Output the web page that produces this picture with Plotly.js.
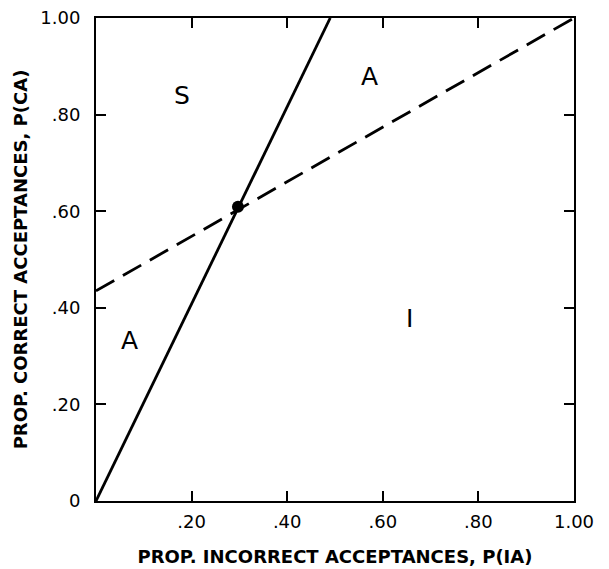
<!DOCTYPE html>
<html>
<head>
<meta charset="utf-8">
<script src="https://cdn.plot.ly/plotly-3.0.1.min.js"></script>
<style>html,body{margin:0;padding:0;background:#fff;}#chart{width:609px;height:569px;}</style>
</head>
<body>
<div id="chart"></div>
<script>
// Data
const solidX = [0, 0.49];
const solidY = [0, 1.0];
const dashedX = [0, 1.0];
const dashedY = [0.435, 1.0];
const pointX = [0.297];
const pointY = [0.609];
const regionLabels = ["S", "A", "A", "I"];
const regionX = [0.18, 0.573, 0.071, 0.655];
const regionY = [0.84, 0.878, 0.333, 0.377];
const xTickVals = [0, 0.2, 0.4, 0.6, 0.8, 1.0];
const xTickText = ["", ".20", ".40", ".60", ".80", "1.00"];
const yTickVals = [0, 0.2, 0.4, 0.6, 0.8, 1.0];
const yTickText = ["0", ".20", ".40", ".60", ".80", "1.00"];

const FONT = "DejaVu Sans, sans-serif";

const traces = [
  {x: solidX, y: solidY, mode: "lines", type: "scatter",
   line: {color: "#000", width: 2.8}, hoverinfo: "skip"},
  {x: dashedX, y: dashedY, mode: "lines", type: "scatter",
   line: {color: "#000", width: 2.8, dash: "21px,10px"}, hoverinfo: "skip"},
  {x: pointX, y: pointY, mode: "markers", type: "scatter",
   marker: {color: "#000", size: 12}, hoverinfo: "skip"}
];

const annotations = regionLabels.map((t, i) => ({
  x: regionX[i], y: regionY[i], xref: "x", yref: "y", text: t,
  showarrow: false, font: {family: FONT, size: 25, color: "#000"}
}));

const layout = {
  width: 609, height: 569,
  margin: {l: 96, r: 35, t: 18, b: 68},
  paper_bgcolor: "#fff", plot_bgcolor: "#fff",
  showlegend: false,
  annotations: annotations,
  xaxis: {
    range: [0, 1], tickvals: xTickVals, ticktext: xTickText,
    ticks: "inside", ticklen: 10, tickwidth: 2, tickcolor: "#000",
    showline: true, linewidth: 2, linecolor: "#000", mirror: "ticks",
    showgrid: false, zeroline: false, fixedrange: true,
    tickfont: {family: FONT, size: 18, color: "#000"},
    ticklabelstandoff: 3,
    title: {text: "PROP. INCORRECT ACCEPTANCES, P(IA)", standoff: 20,
            font: {family: FONT, size: 18, weight: "bold", color: "#000"}}
  },
  yaxis: {
    range: [0, 1], tickvals: yTickVals, ticktext: yTickText,
    ticks: "inside", ticklen: 10, tickwidth: 2, tickcolor: "#000",
    showline: true, linewidth: 2, linecolor: "#000", mirror: "ticks",
    showgrid: false, zeroline: false, fixedrange: true,
    tickfont: {family: FONT, size: 18, color: "#000"},
    ticklabelstandoff: 10,
    title: {text: "PROP. CORRECT ACCEPTANCES, P(CA)", standoff: 8,
            font: {family: FONT, size: 18, weight: "bold", color: "#000"}}
  }
};

Plotly.newPlot("chart", traces, layout, {displayModeBar: false, staticPlot: true});
</script>
</body>
</html>
